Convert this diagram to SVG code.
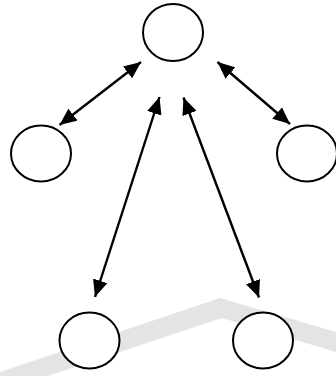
<svg xmlns="http://www.w3.org/2000/svg" width="336" height="376" viewBox="0 0 336 376">
  <style>
    .node { fill: #ffffff; stroke: #000000; stroke-width: 2; }
    .edge { stroke: #000000; stroke-width: 2.4; fill: none; marker-start: url(#head); marker-end: url(#head); }
    .band { fill: #e4e4e4; }
  </style>
  <defs>
    <marker id="head" viewBox="0 0 17 15" refX="17" refY="7.5" markerWidth="17" markerHeight="15" markerUnits="userSpaceOnUse" orient="auto-start-reverse">
      <path d="M0,0 L17,7.5 L0,15 z" fill="#000000"/>
    </marker>
  </defs>

  <rect x="0" y="0" width="336" height="376" fill="#ffffff"/>
  <!-- pale chevron band in the background -->
  <g id="background">
    <polygon class="band" points="0,372 220,298 336,332 336,352 222,318 0,392"/>
  </g>

  <g id="connectors">
    <line class="edge" x1="141" y1="62" x2="59.5" y2="125"/>
    <line class="edge" x1="217.5" y1="62" x2="290" y2="124"/>
    <line class="edge" x1="159.5" y1="97" x2="95" y2="297"/>
    <line class="edge" x1="183.5" y1="97.5" x2="259" y2="297.5"/>
  </g>

  <g id="node-top"><ellipse class="node" cx="173" cy="32.5" rx="30" ry="28.5"/></g>
  <g id="node-left"><ellipse class="node" cx="41" cy="153.5" rx="30" ry="28"/></g>
  <g id="node-right"><ellipse class="node" cx="307" cy="153.5" rx="30" ry="28"/></g>
  <g id="node-bottom-left"><ellipse class="node" cx="89.5" cy="340.5" rx="30" ry="28"/></g>
  <g id="node-bottom-right"><ellipse class="node" cx="263" cy="340.5" rx="30" ry="28"/></g>
</svg>
